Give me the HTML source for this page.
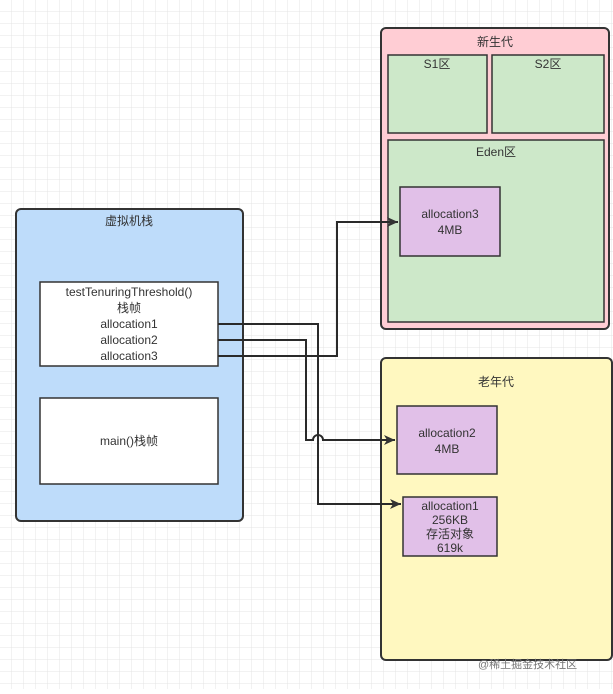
<!DOCTYPE html>
<html><head><meta charset="utf-8"><style>
html,body{margin:0;padding:0;background:#fff;}
body{width:613px;height:689px;overflow:hidden;font-family:"Liberation Sans","Noto Sans CJK SC",sans-serif;}
</style></head><body>
<svg width="613" height="689" xmlns="http://www.w3.org/2000/svg" font-family="Liberation Sans, Noto Sans CJK SC, sans-serif" font-size="12" fill="#333">
<defs>
<pattern id="g" width="12" height="12" patternUnits="userSpaceOnUse"><path d="M12 0V12H0" fill="none" stroke="#e4e4e4" stroke-width="1"/></pattern>
<marker id="a" markerWidth="12" markerHeight="12" refX="11" refY="6" orient="auto" markerUnits="userSpaceOnUse"><path d="M0,1 L11,6 L0,11 L3,6 Z" fill="#333"/></marker>
</defs>
<rect width="613" height="689" fill="url(#g)"/>
<rect x="16" y="209" width="227" height="312" rx="5" fill="#bedcfa" stroke="#333" stroke-width="2"/>
<text x="129" y="225" text-anchor="middle">虚拟机栈</text>
<rect x="40" y="282" width="178" height="84" fill="#fff" stroke="#333" stroke-width="1.5"/>
<text x="129" y="296" text-anchor="middle">testTenuringThreshold()</text>
<text x="129" y="312" text-anchor="middle">栈帧</text>
<text x="129" y="328" text-anchor="middle">allocation1</text>
<text x="129" y="344" text-anchor="middle">allocation2</text>
<text x="129" y="360" text-anchor="middle">allocation3</text>
<rect x="40" y="398" width="178" height="86" fill="#fff" stroke="#333" stroke-width="1.5"/>
<text x="129" y="445" text-anchor="middle">main()栈帧</text>
<rect x="381" y="28" width="228" height="301" rx="5" fill="#ffcdd4" stroke="#333" stroke-width="2"/>
<text x="495" y="46" text-anchor="middle">新生代</text>
<rect x="388" y="55" width="99" height="78" fill="#cde8c9" stroke="#333" stroke-width="1.5"/>
<text x="437" y="68" text-anchor="middle">S1区</text>
<rect x="492" y="55" width="112" height="78" fill="#cde8c9" stroke="#333" stroke-width="1.5"/>
<text x="548" y="68" text-anchor="middle">S2区</text>
<rect x="388" y="140" width="216" height="182" fill="#cde8c9" stroke="#333" stroke-width="1.5"/>
<text x="496" y="156" text-anchor="middle">Eden区</text>
<rect x="400" y="187" width="100" height="69" fill="#e1c0e8" stroke="#333" stroke-width="1.5"/>
<text x="450" y="218" text-anchor="middle">allocation3</text>
<text x="450" y="234" text-anchor="middle">4MB</text>
<rect x="381" y="358" width="231" height="302" rx="5" fill="#fff8c0" stroke="#333" stroke-width="2"/>
<text x="496" y="386" text-anchor="middle">老年代</text>
<rect x="397" y="406" width="100" height="68" fill="#e1c0e8" stroke="#333" stroke-width="1.5"/>
<text x="447" y="437" text-anchor="middle">allocation2</text>
<text x="447" y="453" text-anchor="middle">4MB</text>
<rect x="403" y="497" width="94" height="59" fill="#e1c0e8" stroke="#333" stroke-width="1.5"/>
<text x="450" y="510" text-anchor="middle">allocation1</text>
<text x="450" y="524" text-anchor="middle">256KB</text>
<text x="450" y="538" text-anchor="middle">存活对象</text>
<text x="450" y="552" text-anchor="middle">619k</text>
<g fill="none" stroke="#2a2a2a" stroke-width="2">
<path d="M218 324 H318 V504 H401" marker-end="url(#a)"/>
<path d="M218 340 H306 V440 H313 A5 5 0 0 1 323 440 H395" marker-end="url(#a)"/>
<path d="M218 356 H337 V222 H398" marker-end="url(#a)"/>
</g>
<text x="478" y="668" font-size="11" fill="#777">@稀土掘金技术社区</text>
</svg>
</body></html>
